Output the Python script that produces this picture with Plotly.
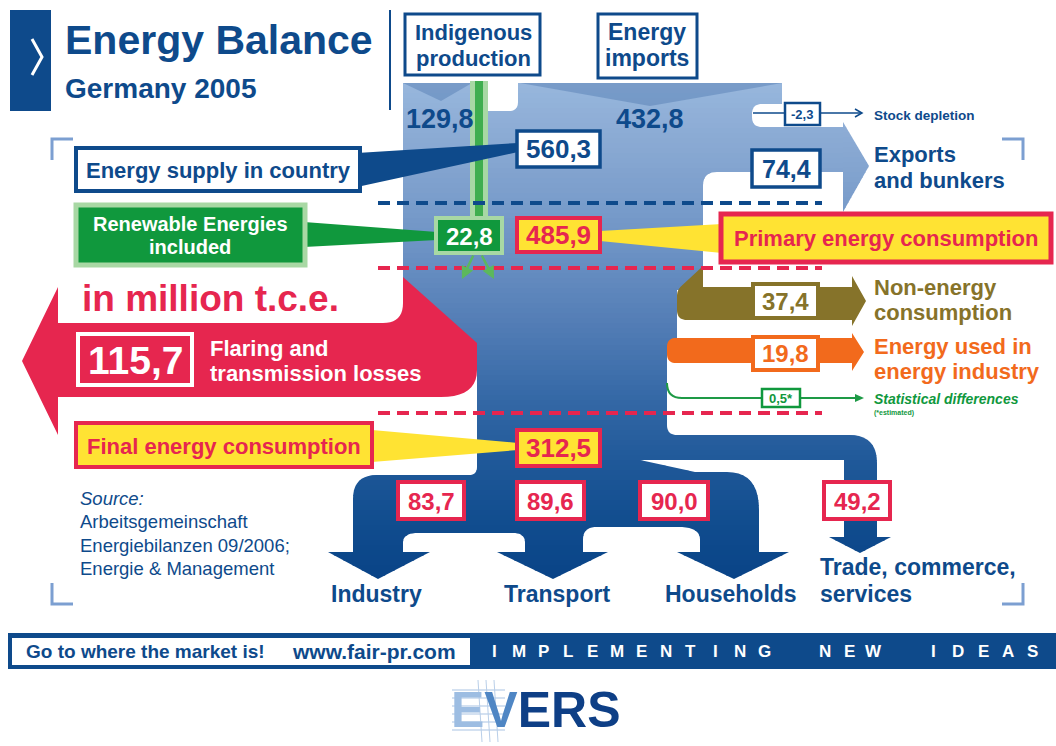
import math
import plotly.graph_objects as go

# ---------------- data (million t.c.e., Germany 2005) ----------------
supply_sources = ["Indigenous<br>production", "Energy<br>imports"]
supply_values = [129.8, 432.8]
stock_label = "Stock depletion"
stock_value = -2.3
energy_supply_label = "Energy supply in country"
energy_supply_value = 560.3
exports_label = "Exports<br>and bunkers"
exports_value = 74.4
renewables_label = "Renewable Energies<br>included"
renewables_value = 22.8
primary_label = "Primary energy consumption"
primary_value = 485.9
losses_label = "Flaring and<br>transmission losses"
losses_value = 115.7
side_flows = ["Non-energy<br>consumption", "Energy used in<br>energy industry", "Statistical differences"]
side_values = [37.4, 19.8, 0.5]
final_label = "Final energy consumption"
final_value = 312.5
sectors = ["Industry", "Transport", "Households", "Trade, commerce,<br>services"]
sector_values = [83.7, 89.6, 90.0, 49.2]
source_lines = ["<i>Source:</i>", "Arbeitsgemeinschaft", "Energiebilanzen 09/2006;", "Energie &amp; Management"]

# ---------------- style ----------------
W, H = 1056, 746
DARK = "#0e4a8b"
RED = "#e6264f"
YEL = "#ffe333"
GREEN = "#10983d"
LGREEN = "#a8d8a4"
BROWN = "#86732a"
ORANGE = "#f26a1c"
LBLUE = "#7c9fd1"
FONT = "Liberation Sans, Arial, sans-serif"


def fmt(v):
    return f"{v:.1f}".replace(".", ",")


shapes = []
annots = []


def pstr(pts):
    return "M " + " L ".join(f"{x:.2f},{y:.2f}" for x, y in pts) + " Z"


def rounded(pts):
    pts = [(p[0], p[1], p[2] if len(p) > 2 else 0) for p in pts]
    out = []
    n = len(pts)
    for i, (x, y, r) in enumerate(pts):
        if r <= 0:
            out.append((x, y))
            continue
        px, py, _ = pts[i - 1]
        nx, ny, _ = pts[(i + 1) % n]
        d1 = math.hypot(px - x, py - y)
        d2 = math.hypot(nx - x, ny - y)
        r1 = min(r, d1 / 2)
        r2 = min(r, d2 / 2)
        ax, ay = x + (px - x) * r1 / d1, y + (py - y) * r1 / d1
        bx, by = x + (nx - x) * r2 / d2, y + (ny - y) * r2 / d2
        for k in range(11):
            t = k / 10
            out.append(((1 - t) ** 2 * ax + 2 * (1 - t) * t * x + t * t * bx,
                        (1 - t) ** 2 * ay + 2 * (1 - t) * t * y + t * t * by))
    return out


def clip_y(poly, y0, y1):
    def clip(poly, inside, yc):
        out = []
        for i in range(len(poly)):
            cur, prev = poly[i], poly[i - 1]
            def inter(p, q):
                t = (yc - p[1]) / (q[1] - p[1])
                return (p[0] + t * (q[0] - p[0]), yc)
            if inside(cur):
                if not inside(prev):
                    out.append(inter(prev, cur))
                out.append(cur)
            elif inside(prev):
                out.append(inter(prev, cur))
        return out
    p = clip(poly, lambda q: q[1] >= y0, y0)
    if len(p) < 3:
        return []
    p = clip(p, lambda q: q[1] <= y1, y1)
    return p if len(p) >= 3 else []


STOPS = [(80, (152, 183, 221)), (150, (136, 168, 210)), (250, (108, 146, 196)),
         (320, (84, 126, 182)), (400, (52, 104, 166)), (460, (32, 89, 153)),
         (520, (17, 77, 143)), (585, (8, 66, 134))]


def grad(y):
    if y <= STOPS[0][0]:
        c = STOPS[0][1]
    elif y >= STOPS[-1][0]:
        c = STOPS[-1][1]
    else:
        for (ya, ca), (yb, cb) in zip(STOPS, STOPS[1:]):
            if ya <= y <= yb:
                t = (y - ya) / (yb - ya)
                c = tuple(ca[i] + t * (cb[i] - ca[i]) for i in range(3))
                break
    return "rgb(%d,%d,%d)" % tuple(int(round(v)) for v in c)


def poly(pts, fill, lw=0, lc=None):
    shapes.append(dict(type="path", path=pstr(pts), fillcolor=fill,
                       line=dict(width=lw, color=lc or fill), xref="x", yref="y"))


def gradient_poly(pts, step=5):
    ys = [p[1] for p in pts]
    y = math.floor(min(ys))
    while y < max(ys):
        c = clip_y(pts, y, y + step + 0.8)
        if c:
            shapes.append(dict(type="path", path=pstr(c), fillcolor=grad(y + step / 2),
                               line=dict(width=0), xref="x", yref="y"))
        y += step


def rect(x0, y0, x1, y1, fill, lc=None, lw=0):
    shapes.append(dict(type="rect", x0=x0, y0=y0, x1=x1, y1=y1, fillcolor=fill,
                       line=dict(color=lc or fill, width=lw), xref="x", yref="y"))


def line_path(d, color, width, dash="solid"):
    shapes.append(dict(type="path", path=d, line=dict(color=color, width=width, dash=dash),
                       xref="x", yref="y"))


def txt(x, y, text, size, color, anchor="center", bold=True, family=FONT, spacing=None):
    lines = text.split("<br>")
    sp = spacing if spacing is not None else size * 1.1
    for i, ln in enumerate(lines):
        t = f"<b>{ln}</b>" if bold else ln
        annots.append(dict(x=x, y=y + i * sp, text=t, showarrow=False, xref="x", yref="y",
                           xanchor=anchor, yanchor="middle",
                           font=dict(family=family, size=size, color=color)))


# ---------------- blue flow body (gradient) ----------------
upper = rounded([(403, 83), (488, 83), (488, 111), (518, 111, 9), (518, 83), (782, 83),
                 (782, 104), (752, 104, 10), (752, 127, 10), (845, 127), (845, 172),
                 (703, 172, 14), (703, 290), (677, 290), (677, 346), (403, 346)])
exports_head = [(843, 122), (869, 166), (843, 212)]
lower = rounded([(477, 340), (667, 340), (667, 435, 10), (877, 435, 28), (877, 537),
                 (891, 537), (860, 553), (829, 537), (844, 537), (844, 460), (640, 460),
                 (695, 472), (759, 472, 38), (759, 552), (789, 552), (734, 579), (677, 552),
                 (700, 552), (700, 527, 22), (583, 527, 14), (583, 552), (608, 552),
                 (553, 579), (497, 552), (525, 552), (525, 533, 12), (403, 533, 15),
                 (403, 552), (430, 552), (378, 579), (328, 552), (353, 552), (353, 475, 24),
                 (477, 475, 8)])
for pg in (upper, exports_head, lower):
    gradient_poly(pg)

# darker chevrons at the top of the inflows
poly([(403, 83), (472, 83), (441, 101)], "rgba(40,85,150,0.28)")
poly([(520, 83), (782, 83), (650, 106)], "rgba(40,85,150,0.28)")

# brown / orange side flows
poly(rounded([(703, 266), (703, 287), (852, 287), (852, 276), (866, 301), (852, 326),
              (852, 320), (677, 320, 10), (677, 290, 6)]), BROWN)
poly(rounded([(852, 338), (852, 333), (864, 352), (852, 371), (852, 363), (667, 363, 9),
              (667, 338, 9)]), ORANGE)

# red losses arrow
poly(rounded([(403, 277), (477, 343), (477, 397, 36), (58, 397), (58, 435), (22, 361),
              (58, 287), (58, 323), (403, 323, 20)]), RED)

# renewable bar
rect(470, 81, 488, 218, LGREEN)
rect(475, 81, 483, 218, "#3fae4f")

# statistical differences line
line_path("M 667,383 Q 667,398 682,398 L 858,398", "#1e9a46", 2)
poly([(855, 394), (864, 398), (855, 402)], "#1e9a46")
# stock depletion line
line_path("M 753,113 L 861,113", DARK, 1.5)
line_path("M 855,109 L 862,113 L 855,117", DARK, 1.5)

# dashed level lines
for yy, col in [(203, DARK), (268, RED), (413, RED)]:
    shapes.append(dict(type="line", x0=378, x1=822, y0=yy, y1=yy, xref="x", yref="y",
                       line=dict(color=col, width=4, dash="12px,7px")))

# callout wedges
poly([(357, 153), (518, 143), (518, 152), (357, 187)], DARK)
poly([(304, 222), (437, 232), (437, 240), (304, 247)], GREEN)
poly([(600, 231), (722, 224), (722, 253), (600, 241)], YEL)
poly([(372, 430), (518, 443), (518, 450), (372, 462)], YEL)

# corner brackets
for d in ["M 52,160 L 52,139 L 73,139", "M 1002,139 L 1023,139 L 1023,160",
          "M 52,583 L 52,604 L 73,604", "M 1002,604 L 1023,604 L 1023,583"]:
    line_path(d, LBLUE, 3)

# ---------------- header ----------------
rect(10, 10, 51, 111, DARK)
line_path("M 32,39 L 42,57 L 32,75", "white", 3)
shapes.append(dict(type="line", x0=390, x1=390, y0=10, y1=110, xref="x", yref="y",
                   line=dict(color=DARK, width=2)))
txt(63, 40, "Energy Balance", 41, DARK, "left")
txt(63, 88, "Germany 2005", 28, DARK, "left")

# inflow label boxes and values
rect(405, 14, 540, 75, "white", DARK, 3)
rect(598, 14, 697, 78, "white", DARK, 3)
txt(473, 32, supply_sources[0], 22, DARK, spacing=26)
txt(647, 32, supply_sources[1], 23, DARK, spacing=26)
txt(440, 119, fmt(supply_values[0]), 27, DARK)
txt(650, 119, fmt(supply_values[1]), 27, DARK)

# stock depletion
rect(785, 103, 820, 125, "white", DARK, 2.5)
txt(802, 114, fmt(stock_value), 13, DARK)
txt(872, 115, stock_label, 13.5, DARK, "left")

# exports
rect(752, 150, 820, 187, "white", DARK, 3.5)
txt(786, 169, fmt(exports_value), 25, DARK)
txt(872, 154, exports_label, 22, DARK, "left", spacing=26)

# energy supply
rect(76, 148, 360, 191, "white", DARK, 4)
txt(218, 170, energy_supply_label, 22, DARK)
rect(517, 131, 600, 167, "white", DARK, 3.5)
txt(558, 149, fmt(energy_supply_value), 26, DARK)

# renewables
rect(76, 205, 305, 265, GREEN, LGREEN, 5)
txt(190, 224, renewables_label, 20, "white", spacing=23)
rect(436, 218, 502, 253, GREEN, LGREEN, 4)
txt(469, 236, fmt(renewables_value), 24, "white")
for x0, x1 in [(474, 462), (481, 494)]:
    annots.append(dict(x=x1, y=279, ax=x0, ay=254, xref="x", yref="y", axref="x", ayref="y",
                       text="", showarrow=True, arrowhead=2, arrowsize=1, arrowwidth=2.5,
                       arrowcolor="#5cb85c"))

# primary energy consumption
rect(517, 218, 600, 252, YEL, RED, 4)
txt(558, 235, fmt(primary_value), 26, RED)
rect(721, 214, 1051, 262, YEL, RED, 5)
txt(886, 238, primary_label, 22, RED)

# losses
txt(80, 298, "in million t.c.e.", 37, RED, "left")
rect(78, 334, 192, 385, "rgba(0,0,0,0)", "white", 4)
txt(135, 360, fmt(losses_value), 39, "white")
txt(208, 348, losses_label, 22, "white", "left", spacing=25)

# side flows
txt(872, 287, side_flows[0], 22, BROWN, "left", spacing=25)
rect(753, 284, 818, 318, "white", BROWN, 4)
txt(785, 301, fmt(side_values[0]), 24, BROWN)
txt(872, 346, side_flows[1], 22, ORANGE, "left", spacing=25)
rect(753, 337, 818, 370, "white", ORANGE, 4)
txt(785, 353, fmt(side_values[1]), 24, ORANGE)
rect(762, 389, 800, 407, "white", GREEN, 2.5)
txt(781, 398, fmt(side_values[2]) + "*", 13, GREEN)
txt(872, 399, "<i>" + side_flows[2] + "</i>", 14, GREEN, "left")
txt(872, 413, "(*estimated)", 7, GREEN, "left")

# final energy consumption
rect(76, 423, 372, 467, YEL, RED, 4)
txt(224, 446, final_label, 22, RED)
rect(517, 430, 600, 466, YEL, RED, 4)
txt(558, 448, fmt(final_value), 26, RED)

# sectors
box_x = [(398, 464), (517, 584), (640, 708), (824, 890)]
for (x0, x1), v in zip(box_x, sector_values):
    rect(x0, 482, x1, 519, "white", RED, 4)
    txt((x0 + x1) / 2, 501, fmt(v), 24, RED)
txt(376, 594, sectors[0], 23, DARK)
txt(557, 594, sectors[1], 23, DARK)
txt(731, 594, sectors[2], 23, DARK)
txt(818, 567, sectors[3], 23, DARK, "left", spacing=27)

# source
for i, s in enumerate(source_lines):
    txt(78, 498 + i * 23.5, s, 18.5, DARK, "left", bold=False)

# ---------------- footer banner ----------------
rect(8, 633, 1056, 669, DARK)
rect(12, 638, 470, 665, "white")
txt(24, 651, "Go to where the market is!", 19, DARK, "left")
txt(290, 651, "www.fair-pr.com", 21, DARK, "left")
xpos = 494
for word in ["IMPLEMENTING", "NEW", "IDEAS"]:
    for ch in word:
        txt(xpos, 651, ch, 17, "white")
        xpos += 24.6
    xpos += 60 - 24.6

# EVERS logo
for k in range(6):
    shapes.append(dict(type="line", x0=452, x1=505, y0=690 + k * 8, y1=690 + k * 8,
                       xref="x", yref="y", line=dict(color="#a9c3e3", width=1)))
for xv in [478, 486, 494]:
    shapes.append(dict(type="line", x0=xv, x1=xv + 4, y0=680, y1=742, xref="x", yref="y",
                       line=dict(color="#b9cfe9", width=1)))
annots.append(dict(x=536, y=710, xref="x", yref="y", showarrow=False, xanchor="center",
                   yanchor="middle",
                   text="<b><span style='color:#9dbde2'>E</span><span style='color:#4f86c4'>V</span>ERS</b>",
                   font=dict(family=FONT, size=50, color="#0e3f86")))

fig = go.Figure()
fig.update_layout(width=W, height=H, margin=dict(l=0, r=0, t=0, b=0),
                  paper_bgcolor="white", plot_bgcolor="white",
                  xaxis=dict(range=[0, W], visible=False, fixedrange=True),
                  yaxis=dict(range=[H, 0], visible=False, fixedrange=True),
                  shapes=shapes, annotations=annots, showlegend=False)
fig.write_html("out.html", config={"displayModeBar": False},
               post_script="document.body.style.margin='0';document.body.style.padding='0';")
